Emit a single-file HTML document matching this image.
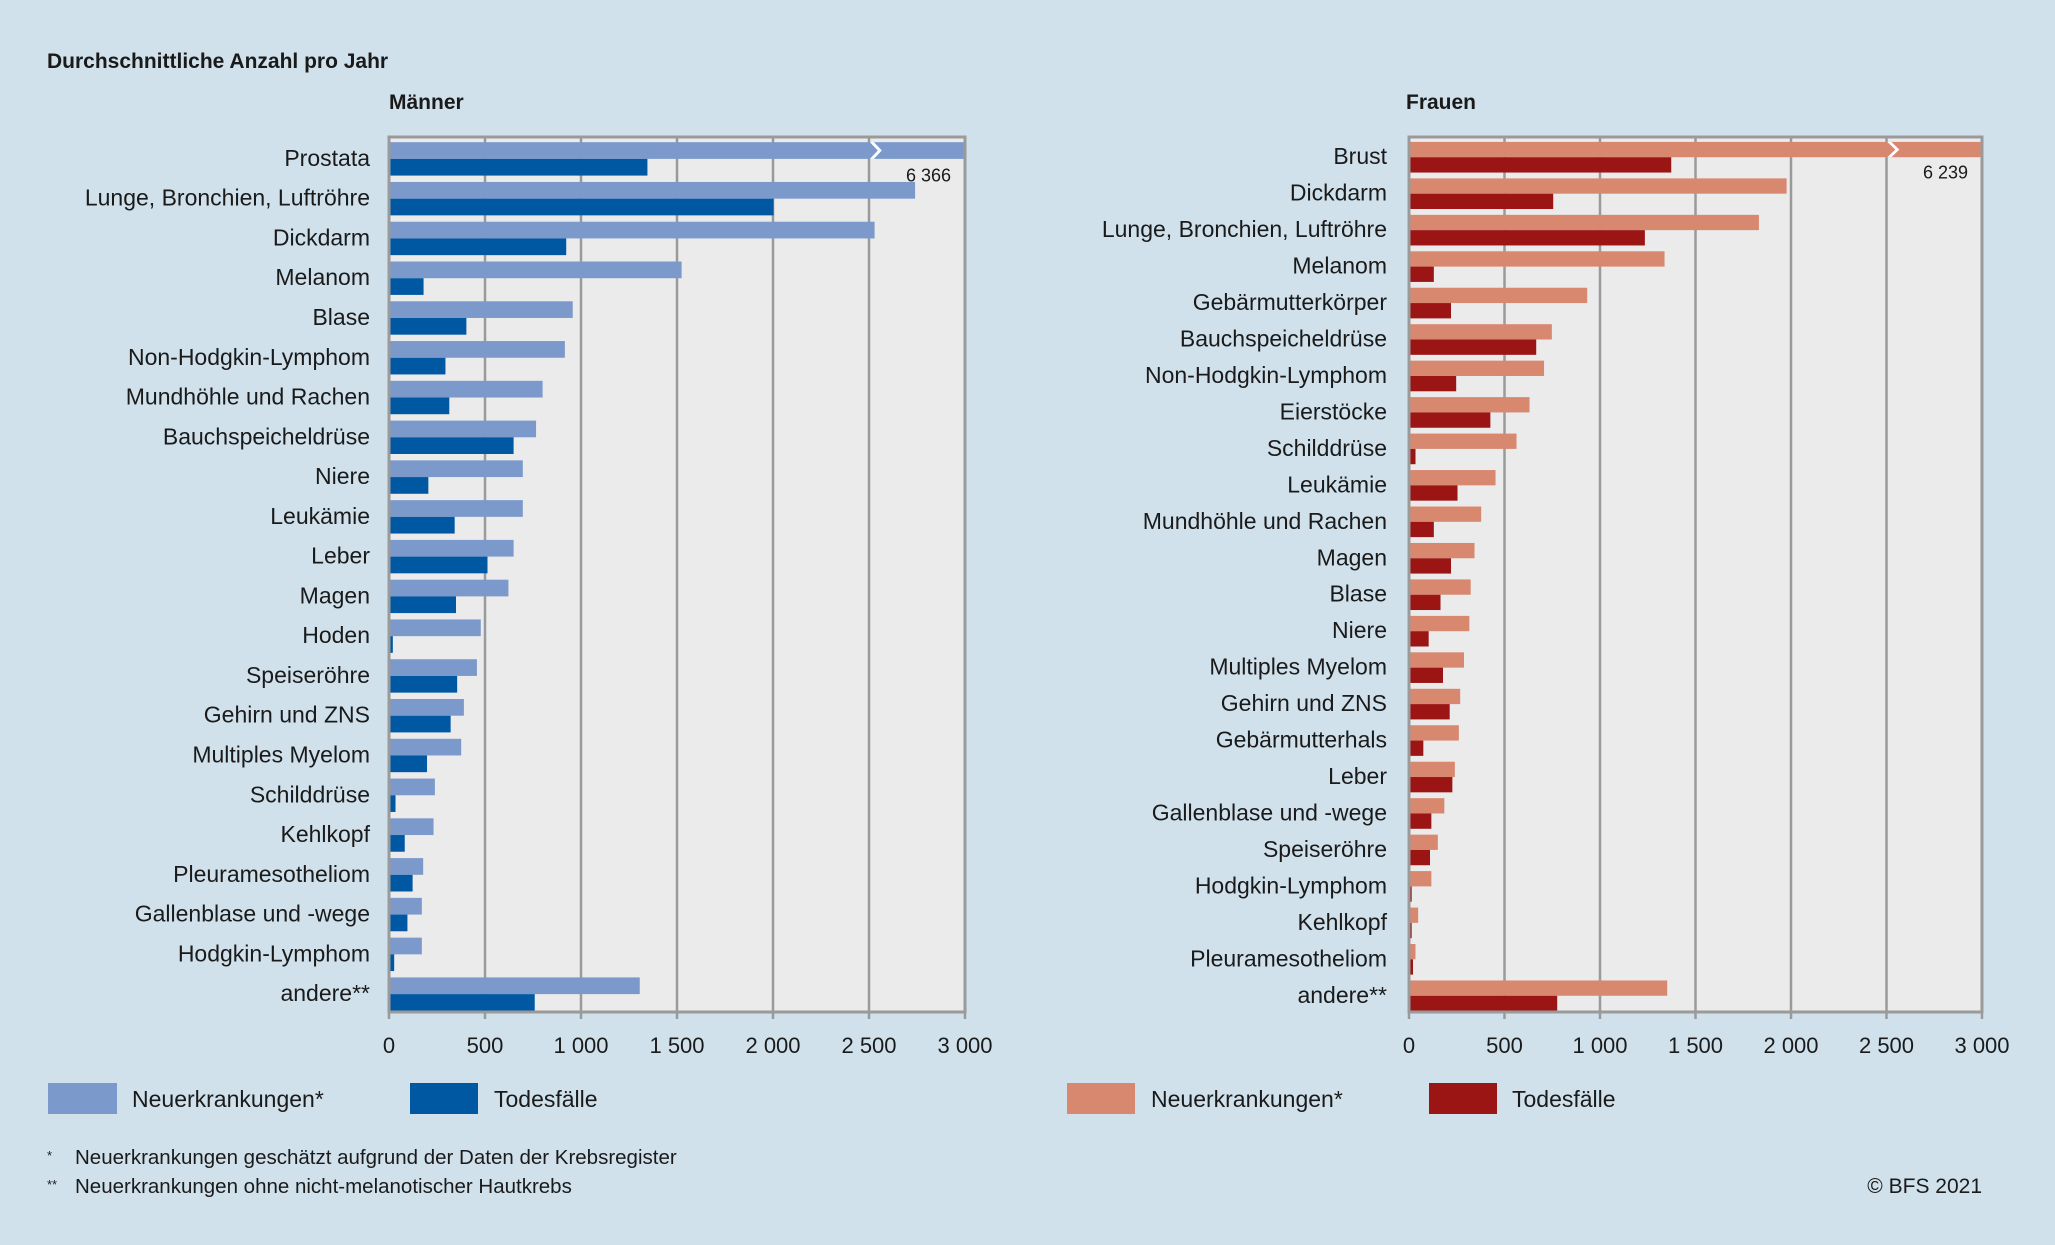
<!DOCTYPE html>
<html><head><meta charset="utf-8">
<style>
html,body{margin:0;padding:0;background:#d0e1ec;}
svg{display:block;font-family:"Liberation Sans",sans-serif;}
</style></head>
<body>
<svg id="c" width="2055" height="1245" viewBox="0 0 2055 1245" xmlns="http://www.w3.org/2000/svg">
<rect width="2055" height="1245" fill="#d0e1ec"/>
<text x="47" y="68" font-size="21" font-weight="bold" fill="#1a1a1a">Durchschnittliche Anzahl pro Jahr</text>
<text x="389" y="109" font-size="21" font-weight="bold" fill="#1a1a1a">Männer</text>
<text x="1406" y="109" font-size="21" font-weight="bold" fill="#1a1a1a">Frauen</text>
<g>
<rect x="48" y="1083" width="69" height="31" fill="#7b9acb"/>
<text x="132" y="1107" font-size="23" fill="#1a1a1a">Neuerkrankungen*</text>
<rect x="410" y="1083" width="68" height="31" fill="#0058a3"/>
<text x="494" y="1107" font-size="23" fill="#1a1a1a">Todesfälle</text>
</g>
<g>
<rect x="1067" y="1083" width="68" height="31" fill="#d98870"/>
<text x="1151" y="1107" font-size="23" fill="#1a1a1a">Neuerkrankungen*</text>
<rect x="1429" y="1083" width="68" height="31" fill="#9c1515"/>
<text x="1512" y="1107" font-size="23" fill="#1a1a1a">Todesfälle</text>
</g>
<text x="47" y="1160" font-size="13" fill="#1a1a1a">*</text>
<text x="75" y="1164" font-size="20.5" fill="#1a1a1a">Neuerkrankungen geschätzt aufgrund der Daten der Krebsregister</text>
<text x="47" y="1189" font-size="13" fill="#1a1a1a">**</text>
<text x="75" y="1193" font-size="20.5" fill="#1a1a1a">Neuerkrankungen ohne nicht-melanotischer Hautkrebs</text>
<text x="1982" y="1193" font-size="21" text-anchor="end" fill="#1a1a1a">© BFS 2021</text>
</svg>
<script>
const menCategories=["Prostata","Lunge, Bronchien, Luftröhre","Dickdarm","Melanom","Blase","Non-Hodgkin-Lymphom","Mundhöhle und Rachen","Bauchspeicheldrüse","Niere","Leukämie","Leber","Magen","Hoden","Speiseröhre","Gehirn und ZNS","Multiples Myelom","Schilddrüse","Kehlkopf","Pleuramesotheliom","Gallenblase und -wege","Hodgkin-Lymphom","andere**"];
const menNew=[6366,2740,2529,1524,957,916,800,766,697,697,649,622,478,458,390,376,239,232,178,171,171,1306];
const menDeaths=[1346,2003,923,180,403,294,314,649,205,342,513,349,20,355,321,198,34,82,123,96,27,759];
const womenCategories=["Brust","Dickdarm","Lunge, Bronchien, Luftröhre","Melanom","Gebärmutterkörper","Bauchspeicheldrüse","Non-Hodgkin-Lymphom","Eierstöcke","Schilddrüse","Leukämie","Mundhöhle und Rachen","Magen","Blase","Niere","Multiples Myelom","Gehirn und ZNS","Gebärmutterhals","Leber","Gallenblase und -wege","Speiseröhre","Hodgkin-Lymphom","Kehlkopf","Pleuramesotheliom","andere**"];
const womenNew=[6239,1977,1832,1338,933,748,707,631,563,453,378,343,323,316,288,268,261,240,185,151,117,48,34,1352];
const womenDeaths=[1373,755,1235,130,220,666,247,426,34,254,130,220,165,103,178,213,75,227,117,110,14,14,21,776];
const tickValues=[0,500,1000,1500,2000,2500,3000];
const tickLabels=["0","500","1 000","1 500","2 000","2 500","3 000"];
const axisMax=3000;
const NS="http://www.w3.org/2000/svg";
const svg=document.getElementById('c');
function mk(tag,attrs,parent){const e=document.createElementNS(NS,tag);for(const k in attrs)e.setAttribute(k,attrs[k]);(parent||svg).appendChild(e);return e;}
function fmt(v){return String(v).replace(/\B(?=(\d{3})+(?!\d))/g," ");}
function panel(p){
  const g=mk('g',{});
  
  
  const x=v=>p.x0+(Math.min(v,axisMax)/axisMax)*(p.x1-p.x0);
  const n=p.cats.length, rowH=(p.y1-p.y0)/n;
  const bg=mk('rect',{x:p.x0,y:p.y0,width:p.x1-p.x0,height:p.y1-p.y0,fill:'#ebebeb'},g);
  
  
  tickValues.forEach((t,i)=>{
    const gl=mk('line',{x1:x(t),x2:x(t),y1:p.y0,y2:p.y1+7,stroke:'#9a9a9a','stroke-width':2.5},g);
    
    
    const tl=mk('text',{x:x(t),y:1053,'font-size':22,'text-anchor':'middle',fill:'#1a1a1a'},g);
    tl.textContent=tickLabels[i];
    
    
  });
  const bh=rowH*p.frac/2;
  for(let i=0;i<n;i++){
    const top=p.y0+i*rowH+(rowH-2*bh)/2+2;
    const b1=mk('rect',{x:p.x0,y:top,width:x(p.nw[i])-p.x0,height:bh,fill:p.c1},g);
    
    
    const b2=mk('rect',{x:p.x0,y:top+bh,width:x(p.dt[i])-p.x0,height:bh,fill:p.c2},g);
    
    
    if(p.nw[i]>axisMax){
      const bx=x(2520);
      const br=mk('path',{d:`M${bx-3} ${top} L${bx+5} ${top+bh/2} L${bx-3} ${top+bh} L${bx+1} ${top+bh} L${bx+9} ${top+bh/2} L${bx+1} ${top}Z`,fill:'#ffffff'},g);
      
      
      const vl=mk('text',{x:p.x1-14,y:top+2*bh+6,'font-size':18,'text-anchor':'end',fill:'#1a1a1a'},g);
      vl.textContent=fmt(p.nw[i]);
      
      
    }
    const cl=mk('text',{x:p.lx,y:p.y0+i*rowH+rowH/2+9,'font-size':23,'text-anchor':'end',fill:'#1a1a1a'},g);
    cl.textContent=p.cats[i];
    
    
  }
  const fr=mk('rect',{x:p.x0,y:p.y0,width:p.x1-p.x0,height:p.y1-p.y0,fill:'none',stroke:'#9a9a9a','stroke-width':3},g);
  
  
}
panel({name:'men',cats:menCategories,nw:menNew,dt:menDeaths,x0:389,x1:965,y0:137,y1:1012,lx:370,c1:'#7b9acb',c2:'#0058a3',frac:0.84});
panel({name:'women',cats:womenCategories,nw:womenNew,dt:womenDeaths,x0:1409,x1:1982,y0:137,y1:1012,lx:1387,c1:'#d98870',c2:'#9c1515',frac:0.84});
</script>
</body></html>
